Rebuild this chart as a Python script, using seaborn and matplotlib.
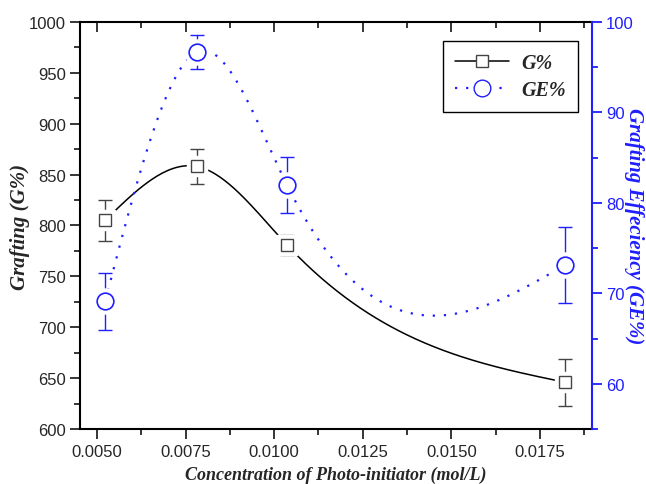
import numpy as np
import pandas as pd
import matplotlib
matplotlib.use("Agg")
import matplotlib.pyplot as plt
import seaborn as sns
from matplotlib.ticker import MultipleLocator
from matplotlib.lines import Line2D

# ---- data ----
conc = [0.00523, 0.00782, 0.01036, 0.0182]
g_pct = [805.0, 858.0, 781.0, 646.0]
g_err = [20.0, 17.0, 10.0, 23.0]
ge_pct = [69.1, 96.7, 82.0, 73.1]
ge_err = [3.1, 1.9, 3.1, 4.2]
series_labels = ["G%", "GE%"]

BLUE = "#1f1fff"
GRAY = "#444444"


def natural_spline(x, y, n=300):
    x = np.asarray(x, float)
    y = np.asarray(y, float)
    k = len(x)
    h = np.diff(x)
    A = np.zeros((k, k))
    b = np.zeros(k)
    A[0, 0] = A[-1, -1] = 1.0
    for i in range(1, k - 1):
        A[i, i - 1] = h[i - 1]
        A[i, i] = 2 * (h[i - 1] + h[i])
        A[i, i + 1] = h[i]
        b[i] = 3 * ((y[i + 1] - y[i]) / h[i] - (y[i] - y[i - 1]) / h[i - 1])
    c = np.linalg.solve(A, b)
    bb = np.zeros(k - 1)
    d = np.zeros(k - 1)
    for i in range(k - 1):
        bb[i] = (y[i + 1] - y[i]) / h[i] - h[i] * (2 * c[i] + c[i + 1]) / 3
        d[i] = (c[i + 1] - c[i]) / (3 * h[i])
    xs = np.linspace(x[0], x[-1], n)
    idx = np.clip(np.searchsorted(x, xs) - 1, 0, k - 2)
    dx = xs - x[idx]
    ys = y[idx] + bb[idx] * dx + c[idx] * dx ** 2 + d[idx] * dx ** 3
    return xs, ys


sns.set_style("ticks")
plt.rcParams["font.family"] = ["Liberation Sans", "DejaVu Sans"]

fig = plt.figure(figsize=(6.46, 4.85), dpi=100)
ax = fig.add_axes([0.1238, 0.1134, 0.7926, 0.8392])
ax2 = ax.twinx()

# G% curve
gx, gy = natural_spline(conc, g_pct)
sns.lineplot(x=gx, y=gy, ax=ax, color="black", lw=1.1, sort=False,
             estimator=None, legend=False, zorder=2)
ax.errorbar(conc, g_pct, yerr=g_err, fmt="none", ecolor=GRAY, elinewidth=1.0,
            capsize=5, capthick=1.0, zorder=3)
ax.plot(conc, g_pct, ls="none", marker="s", ms=15, mfc="white", mec="white",
        zorder=4)
ax.plot(conc, g_pct, ls="none", marker="s", ms=9, mfc="white", mec=GRAY,
        mew=1.0, zorder=5)

# GE% curve
ex, ey = natural_spline(conc, ge_pct)
sns.lineplot(x=ex, y=ey, ax=ax2, color=BLUE, lw=1.6, sort=False,
             estimator=None, legend=False, zorder=2, linestyle=(0, (1, 4)))
ax2.errorbar(conc, ge_pct, yerr=ge_err, fmt="none", ecolor=BLUE, elinewidth=1.0,
             capsize=5, capthick=1.0, zorder=3)
ax2.plot(conc, ge_pct, ls="none", marker="o", ms=18, mfc="white", mec="white",
         zorder=4)
ax2.plot(conc, ge_pct, ls="none", marker="o", ms=12, mfc="white", mec=BLUE,
         mew=1.2, zorder=5)

# axes limits / ticks
ax.set_xlim(0.00452, 0.01897)
ax.set_ylim(600, 1000)
ax2.set_ylim(55, 100)
ax.xaxis.set_major_locator(MultipleLocator(0.0025))
ax.xaxis.set_minor_locator(MultipleLocator(0.00125))
ax.yaxis.set_major_locator(MultipleLocator(50))
ax.yaxis.set_minor_locator(MultipleLocator(25))
ax2.yaxis.set_major_locator(MultipleLocator(10))
ax2.yaxis.set_minor_locator(MultipleLocator(5))
ax.xaxis.set_major_formatter(matplotlib.ticker.FormatStrFormatter("%.4f"))

ax.tick_params(axis="x", which="major", direction="out", length=7, width=1.3,
               labelsize=12, pad=4, top=True)
ax.tick_params(axis="x", which="minor", direction="out", length=4, width=1.3,
               top=True)
ax.tick_params(axis="y", which="major", direction="out", length=7, width=1.3,
               labelsize=12, pad=3)
ax.tick_params(axis="y", which="minor", direction="out", length=4, width=1.3)
ax2.tick_params(axis="y", which="major", direction="out", length=7, width=1.3,
                labelsize=12, pad=3, colors=BLUE)
ax2.tick_params(axis="y", which="minor", direction="out", length=4, width=1.3,
                colors=BLUE)
# top ticks point inward
for t in ax.xaxis.get_major_ticks() + ax.xaxis.get_minor_ticks():
    t.tick2line.set_marker(matplotlib.lines.TICKDOWN)

for s in ["left", "bottom", "top"]:
    ax.spines[s].set_linewidth(1.5)
    ax.spines[s].set_color("black")
ax.spines["right"].set_visible(False)
for s in ["left", "bottom", "top"]:
    ax2.spines[s].set_visible(False)
ax2.spines["right"].set_linewidth(1.5)
ax2.spines["right"].set_color(BLUE)

serif = ["Liberation Serif", "DejaVu Serif"]
ax.set_xlabel("Concentration of Photo-initiator (mol/L)", family=serif,
              style="italic", weight="bold", size=13)
ax.xaxis.set_label_coords(0.5, -0.091)
ax.set_ylabel("Grafting (G%)", family=serif, style="italic", weight="bold",
              size=15, va="center")
ax.yaxis.set_label_coords(-0.117, 0.5)
ax2.set_ylabel("Grafting Effeciency (GE%)", color=BLUE, rotation=270,
               family=serif, style="italic", weight="bold", size=15,
               va="center")
ax2.yaxis.set_label_coords(1.083, 0.5)

# legend
handles = [
    Line2D([], [], color="black", lw=1.1, marker="s", ms=9, mfc="white",
           mec=GRAY),
    Line2D([], [], color=BLUE, lw=1.6, ls=(0, (1, 4)), marker="o", ms=12,
           mfc="white", mec=BLUE),
]
leg = ax.legend(handles, series_labels, loc="upper right",
                bbox_to_anchor=(0.9727, 0.9533), frameon=True, fancybox=False,
                edgecolor="black", framealpha=1, handlelength=2.7,
                handletextpad=0.6,
                prop=dict(family=serif, style="italic", weight="bold",
                          size=14.5),
                borderpad=0.6, labelspacing=0.35, borderaxespad=0)
leg.get_frame().set_linewidth(1.0)

fig.savefig("out.png", dpi=100)
